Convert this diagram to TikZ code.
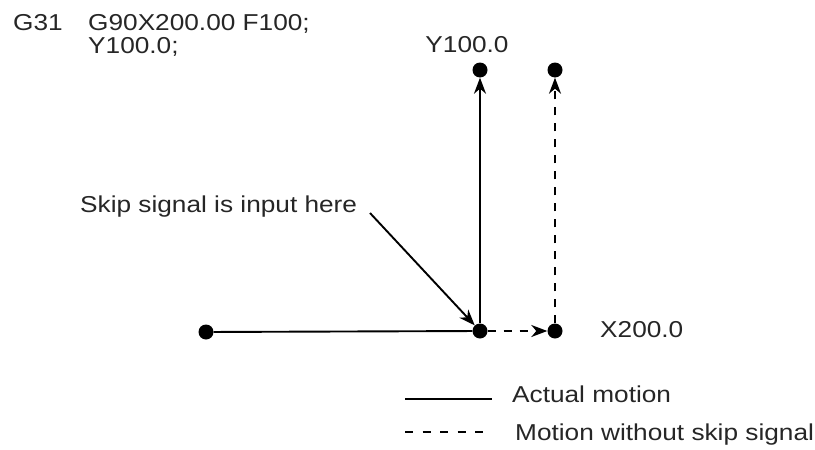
\documentclass[tikz,border=0pt]{standalone}
\usepackage{fontspec}
\setmainfont{Liberation Sans}[FakeStretch=1.14]
\usetikzlibrary{arrows.meta,positioning}

\begin{document}
\begin{tikzpicture}[x=1pt,y=-1pt,every node/.style={font=\fontsize{23}{27}\selectfont,text=black!85}]
  \tikzset{
    dot/.style={circle,fill=black,inner sep=0pt,minimum size=15pt},
    lbl/.style={anchor=base west,inner sep=0pt},
    path/.style={line width=1.9pt},
    skipd/.style={line width=1.9pt,dash pattern=on 8pt off 8pt},
    tip/.style={-{Stealth[length=16pt,width=12pt,inset=5pt]}}
  }
  \useasboundingbox (0,0) rectangle (815,450);
  \node[lbl] (g31) at (13,30) {G31};
  \node[lbl] (blkA) at (88,30) {G90X200.00 F100;};
  \node[lbl] (blkB) at (88,53) {Y100.0;};
  \node[dot] (start) at (206,332) {};
  \node[dot] (skip) at (480,331) {};
  \node[dot] (endx) at (555,331) {};
  \node[dot] (topA) at (480,70) {};
  \node[dot] (topB) at (555,70) {};
  \node[anchor=base,inner sep=0pt] (ylab) at (467,52) {Y100.0};
  \node[lbl] (xlab) at (600,337) {X200.0};
  \node[lbl] (note) at (80,212) {Skip signal is input here};
  \coordinate (noteA) at (370,213);
  \draw[path] (start)--(skip);
  \draw[path,tip] (skip)--(topA);
  \draw[skipd,tip] (skip)--(endx);
  \draw[skipd,tip] (endx)--(topB);
  \draw[path,tip] (noteA)--(skip);
  \coordinate (legA1) at (405,399);
  \coordinate (legA2) at (492,399);
  \coordinate (legB1) at (405,432);
  \coordinate (legB2) at (484,432);
  \draw[line width=1.6pt] (legA1)--(legA2);
  \draw[line width=1.6pt,dash pattern=on 8pt off 9.5pt] (legB1)--(legB2);
  \node[lbl] (legAtxt) at (512,402) {Actual motion};
  \node[lbl] (legBtxt) at (515,440) {Motion without skip signal};
\end{tikzpicture}
\end{document}
